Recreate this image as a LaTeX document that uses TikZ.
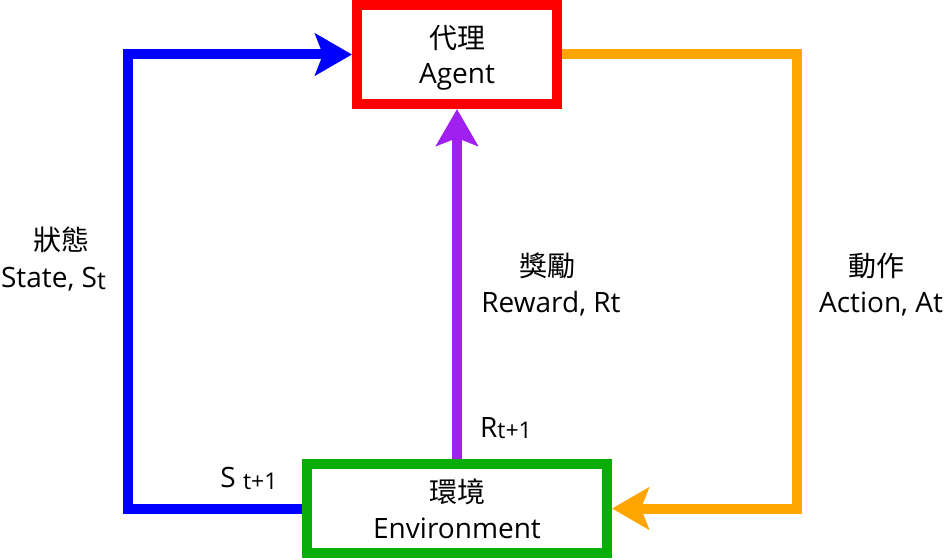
\documentclass[tikz,border=0pt]{standalone}
\usepackage{fontspec}
\setmainfont{Open Sans}
\newfontfamily\cjk{Noto Sans CJK TC}
\usetikzlibrary{arrows.meta}
\definecolor{cblue}{RGB}{0,0,255}
\definecolor{cred}{RGB}{255,0,0}
\definecolor{cgreen}{RGB}{8,173,8}
\definecolor{corange}{RGB}{255,165,0}
\definecolor{cpurple}{RGB}{160,32,240}
\newcommand{\subt}[3]{\raisebox{-#1}{\fontsize{#2}{#2}\selectfont #3}}
\begin{document}
\begin{tikzpicture}[x=1bp,y=-1bp,
  box/.style={draw,line width=10bp,rectangle,inner sep=0pt,align=center,
    font=\fontsize{28bp}{35.5bp}\selectfont,fill=white,text depth=0pt},
  flow/.style={line width=10bp,line join=miter,
    -{Stealth[length=37bp,width=42bp,inset=8bp]}},
  lbl/.style={inner sep=0pt,anchor=base,font=\fontsize{28bp}{32bp}\selectfont}]
\useasboundingbox (0,0) rectangle (945,560);
\node[box,draw=cred,minimum width=200bp,minimum height=99bp] (agent) at (457,54.5) {{\cjk 代理}\\Agent};
\node[box,draw=cgreen,minimum width=300bp,minimum height=89bp] (env) at (457,508.5) {{\cjk 環境}\\Environment};
\coordinate (bl) at (128,508.5);
\coordinate (tl) at (128,54.5);
\coordinate (tr) at (797,54.5);
\coordinate (br) at (797,508.5);
\draw[flow,draw=cblue] (env.west) -- (bl) -- (tl) -- (agent.west);
\draw[flow,draw=corange] (agent.east) -- (tr) -- (br) -- (env.east);
\draw[flow,draw=cpurple] (env.north) -- (agent.south);
\node[lbl] (stzh) at (61,251) {\cjk 狀態};
\node[lbl] (sten) at (53.5,288) {State, S\subt{2bp}{25bp}{t}};
\node[lbl] (rwzh) at (547,277) {\cjk 獎勵};
\node[lbl] (rwen) at (551,312.5) {Reward, Rt};
\node[lbl] (aczh) at (876,277) {\cjk 動作};
\node[lbl] (acen) at (881,312.5) {Action, At};
\node[lbl] (snext) at (249,487) {S \subt{2.5bp}{23bp}{t+1}};
\node[lbl] (rnext) at (506,437) {R\subt{1.5bp}{23bp}{t+1}};
\end{tikzpicture}
\end{document}
